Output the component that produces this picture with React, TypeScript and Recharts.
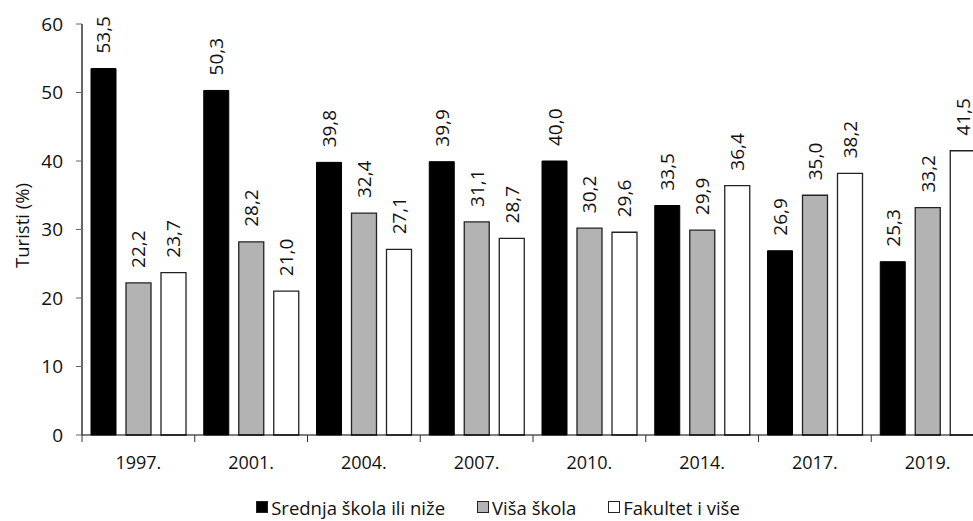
import React from 'react';
import { BarChart, Bar, XAxis, YAxis, Legend, LabelList } from 'recharts';

const categories = ['1997.', '2001.', '2004.', '2007.', '2010.', '2014.', '2017.', '2019.'];
const srednja = [53.5, 50.3, 39.8, 39.9, 40.0, 33.5, 26.9, 25.3];
const visa = [22.2, 28.2, 32.4, 31.1, 30.2, 29.9, 35.0, 33.2];
const fakultet = [23.7, 21.0, 27.1, 28.7, 29.6, 36.4, 38.2, 41.5];
const yTicks = [0, 10, 20, 30, 40, 50, 60];
const seriesNames = ['Srednja škola ili niže', 'Viša škola', 'Fakultet i više'];
const seriesColors = ['#000000', '#b3b3b3', '#ffffff'];

const data = categories.map((c, i) => ({
  year: c,
  s: srednja[i],
  v: visa[i],
  f: fakultet[i],
}));

const FONT = '"Open Sans", "Noto Sans", sans-serif';
const CHART_W = 986;
const CHART_H = 513;
const Y_AXIS_W = 74;
const MARGIN = { top: 16, right: 10, left: 0, bottom: 2 };
const BAND = (CHART_W - Y_AXIS_W - MARGIN.left - MARGIN.right) / categories.length;

const fmt = (v: number) => v.toFixed(1).replace('.', ',');

const ValueLabel = (props: any) => {
  const { x, y, width, value } = props;
  const cx = Number(x) + Number(width) / 2;
  const cy = Number(y) - 15;
  return (
    <text
      x={cx}
      y={cy}
      transform={`rotate(-90, ${cx}, ${cy})`}
      textAnchor="start"
      dominantBaseline="central"
      fontFamily={FONT}
      fontSize={19}
      fill="#111"
    >
      {fmt(Number(value))}
    </text>
  );
};

const XTick = (props: any) => {
  const { x, y, payload } = props;
  const left = Number(x) - BAND / 2;
  const axisY = Number(y) - 8;
  return (
    <g>
      <line x1={left} y1={axisY} x2={left} y2={axisY + 7} stroke="#333" strokeWidth={1} />
      <text x={x} y={axisY + 27} textAnchor="middle" dominantBaseline="central" fontFamily={FONT} fontSize={18} fill="#111">
        {payload.value}
      </text>
    </g>
  );
};

const LegendContent = () => (
  <div
    style={{
      display: 'flex',
      justifyContent: 'center',
      alignItems: 'center',
      height: 24,
      fontFamily: FONT,
      fontSize: 18.5,
      color: '#111',
      gap: 32,
      paddingLeft: 4,
    }}
  >
    {seriesNames.map((n, i) => (
      <div key={n} style={{ display: 'flex', alignItems: 'center' }}>
        <span
          style={{
            display: 'inline-block',
            width: 12,
            height: 12,
            background: seriesColors[i],
            border: '1px solid #222',
            marginRight: 3,
            boxSizing: 'border-box',
          }}
        />
        <span>{n}</span>
      </div>
    ))}
  </div>
);

export default function App() {
  return (
    <div style={{ width: 973, height: 521, overflow: 'hidden', background: '#fff', position: 'relative' }}>
      <style>{'body{margin:0;}'}</style>
      <div style={{ position: 'absolute', left: 8, top: 8 }}>
        <BarChart
          width={CHART_W}
          height={CHART_H}
          data={data}
          margin={MARGIN}
          barSize={25}
          barGap={10}
        >
          <XAxis
            dataKey="year"
            height={60}
            axisLine={{ stroke: '#000', strokeWidth: 1.2 }}
            tickLine={false}
            tick={<XTick />}
            interval={0}
          />
          <YAxis
            domain={[0, 60]}
            ticks={yTicks}
            width={Y_AXIS_W}
            axisLine={{ stroke: '#000', strokeWidth: 1.2 }}
            tickLine={{ stroke: '#666' }}
            tickSize={6}
            tickMargin={13}
            tick={{ fontFamily: FONT, fontSize: 19, fill: '#111' }}
            label={{
              content: (p: any) => {
                const vb = p.viewBox;
                const cx = vb.x + 13;
                const cy = vb.y + vb.height / 2 - 4;
                return (
                  <text
                    x={cx}
                    y={cy}
                    transform={`rotate(-90, ${cx}, ${cy})`}
                    textAnchor="middle"
                    dominantBaseline="central"
                    fontFamily={FONT}
                    fontSize={18.5}
                    fill="#111"
                  >
                    Turisti (%)
                  </text>
                );
              },
            }}
          />
          <Legend verticalAlign="bottom" content={<LegendContent />} />
          <Bar dataKey="s" name={seriesNames[0]} fill={seriesColors[0]} stroke="#000" strokeWidth={1} isAnimationActive={false}>
            <LabelList dataKey="s" content={<ValueLabel />} />
          </Bar>
          <Bar dataKey="v" name={seriesNames[1]} fill={seriesColors[1]} stroke="#222" strokeWidth={1.3} isAnimationActive={false}>
            <LabelList dataKey="v" content={<ValueLabel />} />
          </Bar>
          <Bar dataKey="f" name={seriesNames[2]} fill={seriesColors[2]} stroke="#222" strokeWidth={1.3} isAnimationActive={false}>
            <LabelList dataKey="f" content={<ValueLabel />} />
          </Bar>
        </BarChart>
      </div>
    </div>
  );
}
